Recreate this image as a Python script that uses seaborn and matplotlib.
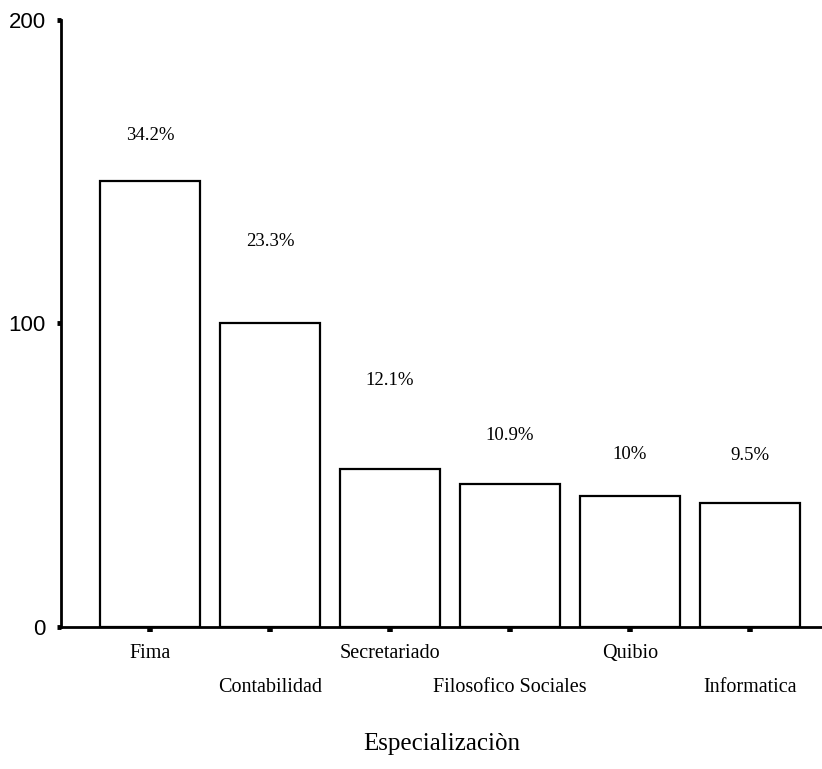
import seaborn as sns
import matplotlib.pyplot as plt
import pandas as pd

especialidades = ['Fima', 'Contabilidad', 'Secretariado', 'Filosofico Sociales', 'Quibio', 'Informatica']
conteos = [147, 100, 52, 47, 43, 41]
etiquetas_pct = ['34.2%', '23.3%', '12.1%', '10.9%', '10%', '9.5%']

df = pd.DataFrame({'Especializacion': especialidades, 'Conteo': conteos})

sns.set_style('ticks')
plt.rcParams['font.family'] = ['Liberation Serif', 'DejaVu Serif']
plt.rcParams['text.color'] = 'black'
plt.rcParams['axes.labelcolor'] = 'black'
plt.rcParams['xtick.color'] = 'black'
plt.rcParams['ytick.color'] = 'black'
plt.rcParams['axes.edgecolor'] = 'black'

fig = plt.figure(figsize=(8.22, 7.69), dpi=100)
ax = fig.add_axes([0.0742, 0.1847, 0.9258, 0.7893])

sns.barplot(data=df, x='Especializacion', y='Conteo', color='white',
            edgecolor='black', linewidth=1.6, width=0.833, ax=ax, saturation=1)

# desplazamiento (en puntos) de cada etiqueta de porcentaje sobre su barra
desplaz = [33, 59, 64, 35, 30, 34]
for i, (v, t) in enumerate(zip(conteos, etiquetas_pct)):
    ax.annotate(t, (i, v), xytext=(0, desplaz[i]), textcoords='offset points',
                ha='center', va='center', fontsize=13.5)

ax.set_ylim(0, 200)
ax.set_xlim(-0.742, 5.6)
ax.set_yticks([0, 100, 200])
ax.set_yticklabels(['0', '100', '200'], family='Liberation Sans', fontsize=16)
ax.set_xticks(range(len(especialidades)))
ax.set_xticklabels([e if i % 2 == 0 else '\n' + e for i, e in enumerate(especialidades)],
                   fontsize=14.5, linespacing=2.05)
ax.tick_params(axis='y', length=3, width=3.5, pad=8)
ax.tick_params(axis='x', length=3.5, width=4, pad=9)

sns.despine(ax=ax, top=True, right=True)
ax.spines['left'].set_linewidth(2)
ax.spines['bottom'].set_linewidth(2)

ax.set_ylabel('')
ax.set_xlabel('Especializaciòn', fontsize=18, labelpad=26)

fig.savefig('out.png', dpi=100)
